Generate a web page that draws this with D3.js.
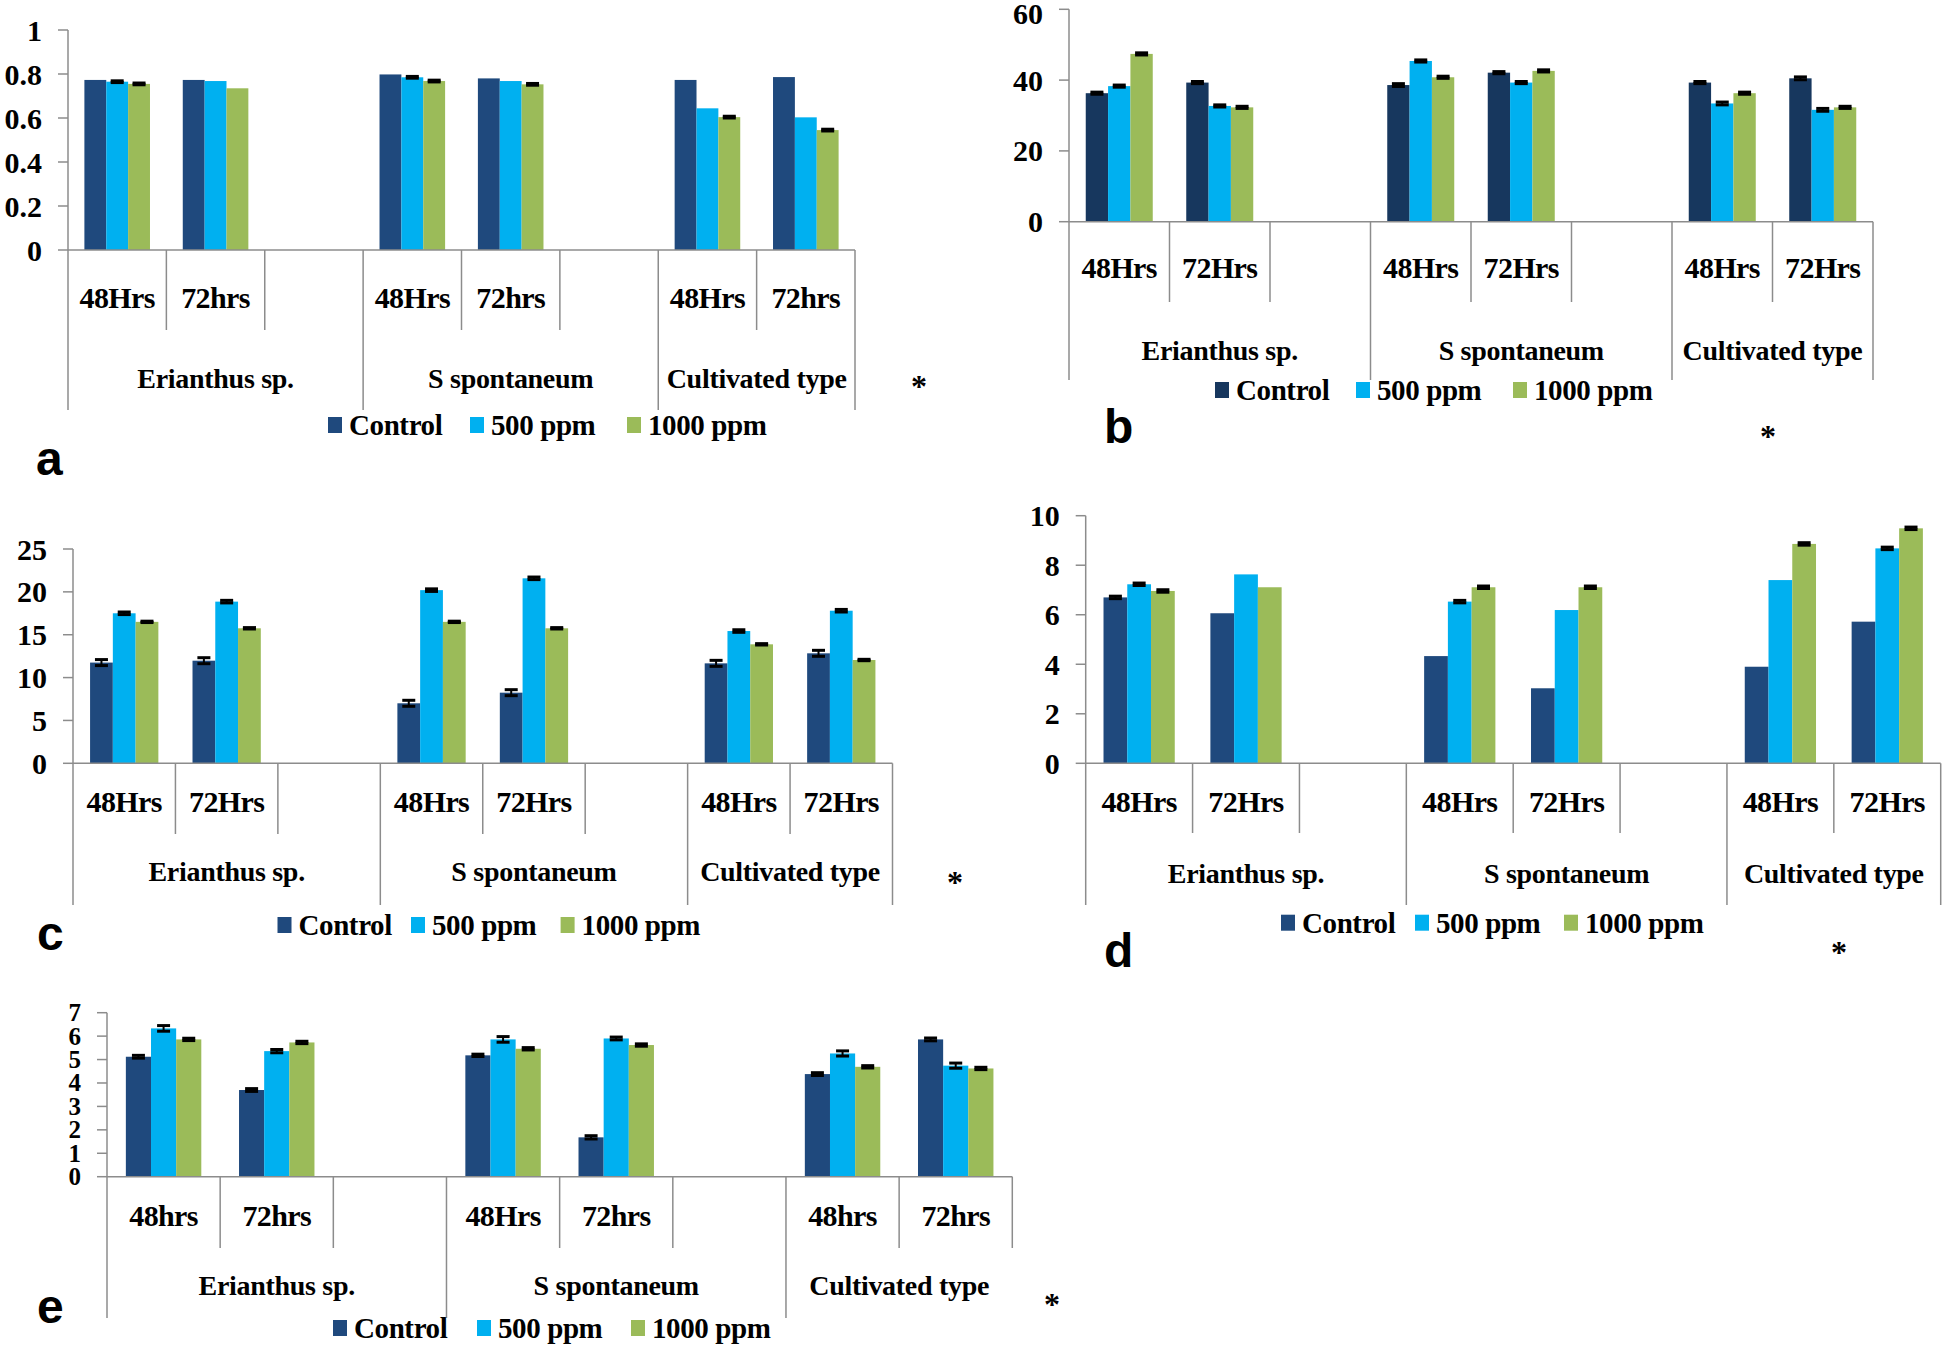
<!DOCTYPE html>
<html>
<head>
<meta charset="utf-8">
<script src="https://cdn.jsdelivr.net/npm/d3@7"></script>
<style>
  html, body { margin: 0; padding: 0; background: #fff; }
  svg { display: block; }
</style>
</head>
<body>
<svg id="chart" width="1944" height="1346"></svg>
<script>
// ---------------- DATA ----------------
const groups = ["Erianthus sp.", "S spontaneum", "Cultivated type"];
const seriesNames = ["Control", "500 ppm", "1000 ppm"];

// order of bars: Erianthus 48, Erianthus 72, S spont 48, S spont 72, Cultivated 48, Cultivated 72
const timeLabelsA = ["48Hrs", "72hrs", "48Hrs", "72hrs", "48Hrs", "72hrs"];
const timeLabelsB = ["48Hrs", "72Hrs", "48Hrs", "72Hrs", "48Hrs", "72Hrs"];
const timeLabelsC = ["48Hrs", "72Hrs", "48Hrs", "72Hrs", "48Hrs", "72Hrs"];
const timeLabelsD = ["48Hrs", "72Hrs", "48Hrs", "72Hrs", "48Hrs", "72Hrs"];
const timeLabelsE = ["48hrs", "72hrs", "48Hrs", "72hrs", "48hrs", "72hrs"];

const ticksA = [0, 0.2, 0.4, 0.6, 0.8, 1];
const ticksB = [0, 20, 40, 60];
const ticksC = [0, 5, 10, 15, 20, 25];
const ticksD = [0, 2, 4, 6, 8, 10];
const ticksE = [0, 1, 2, 3, 4, 5, 6, 7];

// panel a
const aControl = [0.773, 0.773, 0.798, 0.780, 0.773, 0.786];
const a500     = [0.765, 0.768, 0.785, 0.768, 0.644, 0.603];
const a1000    = [0.755, 0.735, 0.768, 0.753, 0.604, 0.545];
const aErrControl = [0, 0, 0, 0, 0, 0];
const aErr500     = [0.004, 0, 0.004, 0, 0, 0];
const aErr1000    = [0.004, 0, 0.004, 0.004, 0.004, 0.004];

// panel b
const bControl = [36.3, 39.3, 38.6, 42.1, 39.3, 40.5];
const b500     = [38.3, 32.7, 45.4, 39.3, 33.4, 31.6];
const b1000    = [47.4, 32.3, 40.8, 42.6, 36.3, 32.3];
const bErrControl = [0.3, 0.3, 0.4, 0.3, 0.3, 0.4];
const bErr500     = [0.3, 0.3, 0.3, 0.3, 0.4, 0.4];
const bErr1000    = [0.3, 0.3, 0.3, 0.3, 0.3, 0.3];

// panel c
const cControl = [11.75, 11.97, 7.0, 8.24, 11.66, 12.83];
const c500     = [17.5, 18.86, 20.2, 21.58, 15.43, 17.8];
const c1000    = [16.5, 15.75, 16.5, 15.75, 13.88, 12.05];
const cErrControl = [0.35, 0.35, 0.35, 0.35, 0.35, 0.35];
const cErr500     = [0.15, 0.15, 0.15, 0.15, 0.15, 0.15];
const cErr1000    = [0.08, 0.08, 0.08, 0.08, 0.08, 0.08];

// panel d
const dControl = [6.70, 6.06, 4.33, 3.03, 3.90, 5.72];
const d500     = [7.23, 7.63, 6.53, 6.19, 7.40, 8.68];
const d1000    = [6.96, 7.11, 7.11, 7.11, 8.86, 9.49];
const dErrControl = [0.05, 0, 0, 0, 0, 0];
const dErr500     = [0.05, 0, 0.05, 0, 0, 0.05];
const dErr1000    = [0.05, 0, 0.05, 0.05, 0.05, 0.05];

// panel e
const eControl = [5.12, 3.70, 5.18, 1.68, 4.38, 5.86];
const e500     = [6.33, 5.36, 5.86, 5.90, 5.26, 4.74];
const e1000    = [5.86, 5.73, 5.46, 5.62, 4.69, 4.62];
const eErrControl = [0.06, 0.06, 0.05, 0.07, 0.06, 0.06];
const eErr500     = [0.12, 0.07, 0.12, 0.06, 0.11, 0.11];
const eErr1000    = [0.05, 0.05, 0.05, 0.05, 0.05, 0.05];

// ---------------- DRAWING ----------------
const svg = d3.select("#chart");
const SERIF = "'Liberation Serif', 'Times New Roman', serif";
const SANS = "'Liberation Sans', Arial, sans-serif";
const axisColor = "#8c8c8c";
const NSLOTS = 8;           // 3 + 3 + 2 category slots
const groupStarts = [0, 3, 6, 8];

function drawPanel(p) {
  const g = svg.append("g");
  const yMax = p.ticks[p.ticks.length - 1];
  const y = d3.scaleLinear().domain([0, yMax]).range([p.y0, p.yTop]);
  const slot = d3.scaleBand().domain(d3.range(NSLOTS)).range([p.axisX, p.right]).padding(0);
  const edge = k => (k < NSLOTS ? slot(k) : p.right);
  const inner = d3.scaleBand().domain(seriesNames).range([0, slot.bandwidth()])
    .paddingInner(0).paddingOuter(0.75);
  const colors = d3.scaleOrdinal().domain(seriesNames).range(p.colors);

  const series = [p.control, p.v500, p.v1000];
  const errs = [p.errControl, p.err500, p.err1000];
  const slotOf = i => Math.floor(i / 2) * 3 + (i % 2);

  const rows = [];
  series.forEach((vals, s) => vals.forEach((v, i) => rows.push({
    s: seriesNames[s], v, e: errs[s][i], i
  })));

  // bars
  g.append("g").selectAll("rect").data(rows).join("rect")
    .attr("x", d => slot(slotOf(d.i)) + inner(d.s))
    .attr("y", d => y(d.v))
    .attr("width", inner.bandwidth())
    .attr("height", d => y(0) - y(d.v))
    .attr("fill", d => colors(d.s));

  // error bars
  const eb = g.append("g").attr("stroke", "#000").attr("stroke-width", 3);
  rows.filter(d => d.e > 0).forEach(d => {
    const cx = slot(slotOf(d.i)) + inner(d.s) + inner.bandwidth() / 2;
    const hw = 6.5;
    eb.append("line").attr("x1", cx).attr("x2", cx).attr("y1", y(d.v - d.e)).attr("y2", y(d.v + d.e)).attr("stroke-width", 2);
    eb.append("line").attr("x1", cx - hw).attr("x2", cx + hw).attr("y1", y(d.v + d.e)).attr("y2", y(d.v + d.e));
    eb.append("line").attr("x1", cx - hw).attr("x2", cx + hw).attr("y1", y(d.v - d.e)).attr("y2", y(d.v - d.e));
  });

  // y axis
  const ax = g.append("g").attr("stroke", axisColor).attr("stroke-width", 1.5);
  ax.append("line").attr("x1", p.axisX).attr("x2", p.axisX).attr("y1", y(yMax)).attr("y2", p.groupBottom);
  p.ticks.forEach(t => {
    ax.append("line").attr("x1", p.axisX - 10).attr("x2", p.axisX).attr("y1", y(t)).attr("y2", y(t));
  });
  // x axis
  ax.append("line").attr("x1", p.axisX).attr("x2", p.right).attr("y1", y(0)).attr("y2", y(0));
  for (let k = 1; k <= NSLOTS; k++) {
    let bottom = groupStarts.includes(k) ? p.groupBottom : p.innerBottom;
    if (k === NSLOTS && p.shortRight) bottom = p.innerBottom;
    ax.append("line").attr("x1", edge(k)).attr("x2", edge(k)).attr("y1", y(0)).attr("y2", bottom);
  }

  // tick labels
  g.append("g").selectAll("text").data(p.ticks).join("text")
    .attr("x", p.axisX - 26).attr("y", d => y(d) + (d === yMax ? (p.topShift || 0) : 0))
    .attr("text-anchor", "end").attr("dominant-baseline", "central")
    .attr("font-family", SERIF).attr("font-weight", "bold").attr("font-size", p.tickFont || 30)
    .text(d => String(d));

  // time labels
  g.append("g").selectAll("text").data(p.timeLabels).join("text")
    .attr("x", (d, i) => slot(slotOf(i)) + slot.bandwidth() / 2).attr("y", p.innerLabelY)
    .attr("text-anchor", "middle").attr("dominant-baseline", "central")
    .attr("font-family", SERIF).attr("font-weight", "bold").attr("font-size", 30)
    .attr("letter-spacing", -0.6)
    .text(d => d);

  // group labels
  g.append("g").selectAll("text").data(groups).join("text")
    .attr("x", (d, gi) => (edge(groupStarts[gi]) + edge(groupStarts[gi + 1])) / 2)
    .attr("y", p.groupLabelY)
    .attr("text-anchor", "middle").attr("dominant-baseline", "central")
    .attr("font-family", SERIF).attr("font-weight", "bold").attr("font-size", 28)
    .attr("letter-spacing", -0.3)
    .text(d => d);

  // legend
  const lg = g.append("g");
  seriesNames.forEach((s, k) => {
    lg.append("rect").attr("x", p.legendX[k]).attr("y", p.legendY - 8).attr("width", 14).attr("height", 16)
      .attr("fill", colors(s));
    lg.append("text").attr("x", p.legendX[k] + 21).attr("y", p.legendY)
      .attr("dominant-baseline", "central")
      .attr("font-family", SERIF).attr("font-weight", "bold").attr("font-size", 29)
      .attr("letter-spacing", -0.4)
      .text(s);
  });

  // panel letter
  g.append("text").attr("x", p.letterX).attr("y", p.letterY)
    .attr("font-family", SANS).attr("font-weight", "bold").attr("font-size", 48)
    .text(p.letter);
  // star
  g.append("text").attr("x", p.starX).attr("y", p.starY)
    .attr("text-anchor", "middle").attr("dominant-baseline", "central")
    .attr("font-family", SERIF).attr("font-weight", "bold").attr("font-size", 32)
    .text("*");
}

const navy = "#1F497D", navyDark = "#17375E", cyan = "#00B0F0", green = "#9BBB59";

drawPanel({
  letter: "a", ticks: ticksA, timeLabels: timeLabelsA,
  control: aControl, v500: a500, v1000: a1000,
  errControl: aErrControl, err500: aErr500, err1000: aErr1000,
  colors: [navy, cyan, green],
  axisX: 68, right: 855, y0: 250, yTop: 30,
  innerLabelY: 297, innerBottom: 330, groupLabelY: 378, groupBottom: 410,
  legendY: 425, legendX: [328, 470, 627],
  letterX: 36, letterY: 475, starX: 919, starY: 386
});
drawPanel({
  letter: "b", ticks: ticksB, timeLabels: timeLabelsB,
  control: bControl, v500: b500, v1000: b1000,
  errControl: bErrControl, err500: bErr500, err1000: bErr1000,
  colors: [navyDark, cyan, green],
  axisX: 1069, right: 1873, y0: 221.7, yTop: 9.3, topShift: 4,
  innerLabelY: 267, innerBottom: 302, groupLabelY: 350, groupBottom: 380,
  legendY: 390, legendX: [1215, 1356, 1513],
  letterX: 1104, letterY: 443, starX: 1768, starY: 436
});
drawPanel({
  letter: "c", ticks: ticksC, timeLabels: timeLabelsC,
  control: cControl, v500: c500, v1000: c1000,
  errControl: cErrControl, err500: cErr500, err1000: cErr1000,
  colors: [navy, cyan, green],
  axisX: 73, right: 892.5, y0: 763.3, yTop: 549,
  innerLabelY: 801.7, innerBottom: 834, groupLabelY: 871.7, groupBottom: 905,
  legendY: 925, legendX: [277.5, 411, 560.6],
  letterX: 37, letterY: 950, starX: 955, starY: 882
});
drawPanel({
  letter: "d", ticks: ticksD, timeLabels: timeLabelsD,
  control: dControl, v500: d500, v1000: d1000,
  errControl: dErrControl, err500: dErr500, err1000: dErr1000,
  colors: [navy, cyan, green],
  axisX: 1085.7, right: 1940.7, y0: 763.3, yTop: 515.7,
  innerLabelY: 801.7, innerBottom: 833, groupLabelY: 873, groupBottom: 905,
  legendY: 922.7, legendX: [1281, 1415, 1564],
  letterX: 1104, letterY: 967, starX: 1839, starY: 952
});
drawPanel({
  letter: "e", ticks: ticksE, timeLabels: timeLabelsE, tickFont: 25,
  control: eControl, v500: e500, v1000: e1000,
  errControl: eErrControl, err500: eErr500, err1000: eErr1000,
  colors: [navy, cyan, green],
  axisX: 107, right: 1012.3, y0: 1176.7, yTop: 1012.7,
  innerLabelY: 1215, innerBottom: 1248, groupLabelY: 1285, groupBottom: 1318,
  legendY: 1328, legendX: [333, 477, 631], shortRight: true,
  letterX: 37, letterY: 1323, starX: 1052, starY: 1304
});
</script>
</body>
</html>
